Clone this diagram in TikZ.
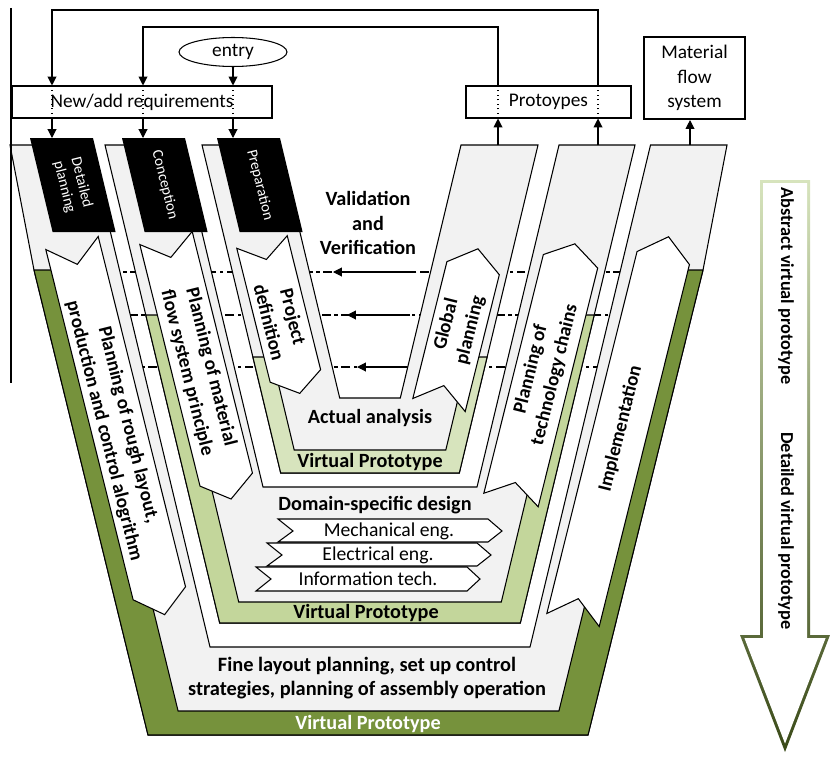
\documentclass[tikz,border=0pt]{standalone}
\usepackage{fontspec}
\setmainfont{Carlito}
\usetikzlibrary{arrows.meta,shapes.geometric,calc}
\definecolor{cgris}{HTML}{F2F2F2}
\definecolor{cvoscuro}{HTML}{76923C}
\definecolor{cvmedio}{HTML}{C3D69B}
\definecolor{cvclaro}{HTML}{D7E4BD}
\definecolor{cvnegro}{HTML}{3A4A18}
\tikzset{
  capa/.style={draw=black, line width=0.6pt, fill=cgris},
  banda/.style={draw=black, line width=0.6pt},
  cabecera/.style={fill=black},
  flechab/.style={draw=black, line width=0.6pt, fill=white},
  caja/.style={rectangle, draw=black, line width=0.6pt, fill=white,
    font=\fontsize{11}{14}\selectfont, align=center},
  flujo/.style={-{Triangle[length=5pt,width=5pt]}, line width=0.6pt},
  punteado/.style={line width=0.6pt, dotted},
  vyv/.style={line width=0.6pt, dash pattern=on 5pt off 2pt on 2pt off 2pt},
  etq/.style={font=\bfseries\fontsize{11.5}{14}\selectfont, align=center},
  etqf/.style={font=\bfseries\fontsize{11}{14}\selectfont, align=center},
  etqc/.style={font=\fontsize{8.6}{10}\selectfont, text=white, align=center},
  etqd/.style={font=\fontsize{11.2}{13}\selectfont},
}

\begin{document}
\begin{tikzpicture}[x=0.02cm, y=-0.02cm]
  \useasboundingbox (0,0) rectangle (830,757);

  % validation lines, under the layers
  \coordinate (v1i) at (60,272);  \coordinate (v1d) at (680,272);
  \coordinate (v2i) at (100,315); \coordinate (v2d) at (640,315);
  \coordinate (v3i) at (100,367); \coordinate (v3d) at (640,367);
  \coordinate (p1a) at (413,272); \coordinate (p1b) at (333,272);
  \coordinate (p2a) at (410,315); \coordinate (p2b) at (347,315);
  \coordinate (p3a) at (410,367); \coordinate (p3b) at (357,367);
  \draw[vyv] (v1d) -- (v1i);
  \draw[vyv] (v2d) -- (v2i);
  \draw[vyv] (v3d) -- (v3i);
  \draw[flujo] (p1a) -- (p1b);
  \draw[flujo] (p2a) -- (p2b);
  \draw[flujo] (p3a) -- (p3b);

  % outer layer
  \draw[capa] (10,145) -- (34,270) -- (148,735) -- (588,735) -- (703,270) -- (727,145) -- (650.5,145)
    -- (530,647) -- (210,647) -- (89.5,145) -- cycle;
  \draw[banda, fill=cvoscuro] (34,270) -- (148,735) -- (588,735) -- (703,270)
    -- (667,270) -- (558.9,711) -- (178.1,711) -- (70,270) -- cycle;
  % middle layer
  \draw[capa] (105,145) -- (219.7,623) -- (520.3,623) -- (635,145) -- (559,145)
    -- (477,487) -- (263,487) -- (181,145) -- cycle;
  \draw[banda, fill=cvmedio] (145.8,315) -- (219.7,623) -- (520.3,623) -- (594.2,315)
    -- (570.2,315) -- (501.3,602) -- (238.7,602) -- (169.8,315) -- cycle;
  % inner layer
  \draw[capa] (202,145) -- (280.7,473) -- (459.3,473) -- (538,145) -- (461,145)
    -- (400.3,398) -- (339.7,398) -- (279,145) -- cycle;
  \draw[banda, fill=cvclaro] (252.9,357) -- (280.7,473) -- (459.3,473) -- (487.1,357)
    -- (468.1,357) -- (445.8,450) -- (294.2,450) -- (271.9,357) -- cycle;

  % headers
  \fill[cabecera] (30,138) -- (93,138) -- (115.6,232) -- (52.6,232) -- cycle;
  \node[etqc, rotate=-76] (tdp) at (72.8,185) {Detailed\\planning};
  \fill[cabecera] (122,138) -- (185,138) -- (207.6,232) -- (144.6,232) -- cycle;
  \node[etqc, rotate=-76] (tco) at (164.8,185) {Conception};
  \fill[cabecera] (217,138) -- (280,138) -- (302.6,232) -- (239.6,232) -- cycle;
  \node[etqc, rotate=-76] (tpr) at (259.8,185) {Preparation};

  % phase arrows, left
  \begin{scope}[shift={(72,243)}, rotate=14]
    \draw[flechab] (-27,0) -- (0,22) -- (27,0) -- (27,361) -- (0,383) -- (-27,361) -- cycle;
    \node[etqf, rotate=-76] (rough) at (-2,190) {Planning of rough layout,\\production and control alogrithm};
  \end{scope}
  \begin{scope}[shift={(166,238)}, rotate=14]
    \draw[flechab] (-27,0) -- (0,20) -- (27,0) -- (27,249) -- (0,269) -- (-27,249) -- cycle;
    \node[etqf, rotate=-76] (princ) at (0,136) {Planning of material\\flow system principle};
  \end{scope}
  \begin{scope}[shift={(262,242)}, rotate=14]
    \draw[flechab] (-26,0) -- (0,18) -- (26,0) -- (26,138) -- (0,156) -- (-26,138) -- cycle;
    \node[etqf, rotate=-76] (pdef) at (0,80) {Project\\definition};
  \end{scope}
  % phase arrows, right
  \begin{scope}[shift={(439,405)}, rotate=-14]
    \draw[flechab] (-27,0) -- (0,-20) -- (27,0) -- (27,-141) -- (0,-161) -- (-27,-141) -- cycle;
    \node[etqf, rotate=76] (glob) at (0,-80) {Global\\planning};
  \end{scope}
  \begin{scope}[shift={(511,500)}, rotate=-14]
    \draw[flechab] (-28,0) -- (0,-18) -- (28,0) -- (28,-246) -- (0,-264) -- (-28,-246) -- cycle;
    \node[etqf, rotate=76] (tech) at (0,-132) {Planning of\\technology chains};
  \end{scope}
  \begin{scope}[shift={(573,620)}, rotate=-14]
    \draw[flechab] (-27,0) -- (0,-22) -- (27,0) -- (27,-373) -- (0,-395) -- (-27,-373) -- cycle;
    \node[etqf, rotate=76] (impl) at (0,-197) {Implementation};
  \end{scope}

  % texts at the bottom of the V
  \node[etq] (vv) at (368,223) {Validation\\and\\Verification};
  \node[etq] (actual) at (370,418) {Actual analysis};
  \node[etq] (vp3) at (370,462) {Virtual Prototype};
  \node[etq] (dom) at (375,505) {Domain-specific design};
  \node[etq] (vp2) at (366,613) {Virtual Prototype};
  \node[etq, font=\bfseries\fontsize{11.6}{14}\selectfont] (fine) at (367,678)
    {Fine layout planning, set up control\\strategies, planning of assembly operation};
  \node[etq, text=white] (vp1) at (368,724) {Virtual Prototype};

  % disciplines
  \draw[flechab] (278,519) -- (488,519) -- (502,531) -- (488,542) -- (278,542) -- (293,531) -- cycle;
  \node[etqd] (mec) at (389,531) {Mechanical eng.};
  \draw[flechab] (267,543) -- (477,543) -- (491,555) -- (477,566) -- (267,566) -- (282,555) -- cycle;
  \node[etqd] (ele) at (378,555) {Electrical eng.};
  \draw[flechab] (256,567) -- (467,567) -- (480,579) -- (467,591) -- (256,591) -- (271,579) -- cycle;
  \node[etqd] (inf) at (368,579) {Information tech.};

  % boxes on top
  \node[caja, minimum width=5.2cm, minimum height=0.64cm] (req) at (142,102) {New/add requirements};
  \node[caja, minimum width=3.3cm, minimum height=0.64cm] (proto) at (548.5,102) {Protoypes};
  \node[caja, line width=1.2pt, minimum width=2.02cm, minimum height=1.64cm] (mfs) at (694.5,78) {Material\\flow\\system};
  \node[ellipse, draw, line width=0.6pt, minimum width=2.16cm, minimum height=0.58cm,
    inner sep=0pt, font=\fontsize{11}{13}\selectfont] (entry) at (233,52) {entry};

  \coordinate (h1) at (52,138);  \coordinate (h2) at (143,138);  \coordinate (h3) at (233,138);
  \coordinate (a4) at (498,145); \coordinate (a5) at (598,145);  \coordinate (a6) at (690,145);
  \coordinate (lazo1) at (0,10); \coordinate (lazo2) at (0,27);

  \draw[flujo] (a5) -- (a5 |- proto.south);
  \draw[punteado] (a5 |- proto.south) -- (a5 |- proto.north);
  \draw[flujo] (a5 |- proto.north) -- (a5 |- lazo1) -| (h1 |- req.north);
  \draw[punteado] (h1 |- req.north) -- (h1 |- req.south);
  \draw[flujo] (h1 |- req.south) -- (h1);

  \draw[flujo] (a4) -- (a4 |- proto.south);
  \draw[punteado] (a4 |- proto.south) -- (a4 |- proto.north);
  \draw[flujo] (a4 |- proto.north) -- (a4 |- lazo2) -| (h2 |- req.north);
  \draw[punteado] (h2 |- req.north) -- (h2 |- req.south);
  \draw[flujo] (h2 |- req.south) -- (h2);

  \draw[flujo] (entry) -- (h3 |- req.north);
  \draw[punteado] (h3 |- req.north) -- (h3 |- req.south);
  \draw[flujo] (h3 |- req.south) -- (h3);

  \draw[flujo] (a6) -- (a6 |- mfs.south);

  % frame line on the left
  \coordinate (m1) at (11,8); \coordinate (m2) at (11,383);
  \draw[line width=0.6pt] (m1) -- (m2);

  % abstraction arrow
  \shade[top color=cvclaro, bottom color=cvnegro] (760,180) -- (810,180) -- (810,635) -- (830,635)
    -- (785,752) -- (740,635) -- (760,635) -- cycle;
  \fill[white] (763,183) -- (807,183) -- (807,638) -- (825.6,638) -- (785,743.5)
    -- (744.4,638) -- (763,638) -- cycle;
  \node[etq, font=\bfseries\fontsize{10.4}{12}\selectfont, rotate=-90] (abs) at (786,286) {Abstract virtual prototype};
  \node[etq, font=\bfseries\fontsize{10.4}{12}\selectfont, rotate=-90] (det) at (786,531) {Detailed virtual prototype};
\end{tikzpicture}
\end{document}
